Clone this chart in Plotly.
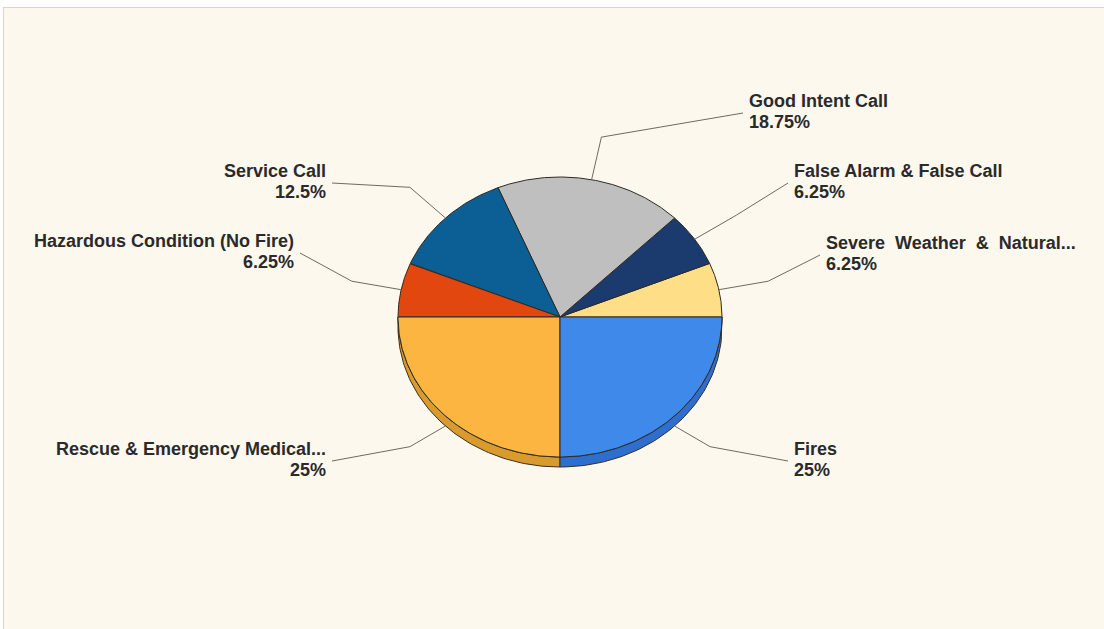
import numpy as np
import plotly.graph_objects as go

# ---- data (counter-clockwise from 3 o'clock) ----
categories = ["Severe  Weather  &  Natural...", "False Alarm & False Call", "Good Intent Call",
              "Service Call", "Hazardous Condition (No Fire)", "Rescue & Emergency Medical...", "Fires"]
percent_labels = ["6.25%", "6.25%", "18.75%", "12.5%", "6.25%", "25%", "25%"]
values = [6.25, 6.25, 18.75, 12.5, 6.25, 25, 25]

# ---- styles / layout ----
top_colors = ["#FEDF87", "#1B3B6F", "#BFBFBF", "#0C5F94", "#E2470F", "#FBB540", "#3F89EA"]
side_colors = ["#D9B865", "#142B52", "#9A9A9A", "#0A4A73", "#B3380B", "#D99A2E", "#2E6ECF"]
# label anchor (end of leader line) as offsets from pie centre, in pixels
label_offsets = [(260, -62), (228, -134), (183, -204), (-228, -134), (-260, -64), (-228, 144), (228, 144)]

W, H = 1101, 622
cx, cy = 557, 310
rx, ry = 162, 140
depth = 10
elbow_k = 1.31
bg = "#FDF8EE"
font = dict(family="Liberation Sans, Arial", size=18, color="#2A2A2A")

def ell(theta_deg, k=1.0, dy=0.0):
    t = np.radians(theta_deg)
    return cx + k * rx * np.cos(t), cy - k * ry * np.sin(t) + dy

fig = go.Figure()
total = sum(values)
angles = np.concatenate([[0], np.cumsum(values) / total * 360.0])

# sides (only the front half, 180..360 deg, is visible)
for i in range(len(values)):
    a, b = max(angles[i], 180.0), min(angles[i + 1], 360.0)
    if b <= a:
        continue
    th = np.linspace(a, b, 80)
    x1, y1 = ell(th)
    x2, y2 = ell(th[::-1], dy=depth)
    fig.add_trace(go.Scatter(x=np.concatenate([x1, x2, x1[:1]]), y=np.concatenate([y1, y2, y1[:1]]),
                             mode="lines", fill="toself", fillcolor=side_colors[i],
                             line=dict(color="#3a2f1c", width=1), hoverinfo="skip", showlegend=False))

# top faces
for i in range(len(values)):
    th = np.linspace(angles[i], angles[i + 1], 120)
    xa, ya = ell(th)
    xs = np.concatenate([[cx], xa, [cx]])
    ys = np.concatenate([[cy], ya, [cy]])
    fig.add_trace(go.Scatter(x=xs, y=ys, mode="lines", fill="toself", fillcolor=top_colors[i],
                             line=dict(color="#2e2a24", width=1),
                             name=categories[i], text=f"{categories[i]}: {percent_labels[i]}",
                             hoverinfo="text", showlegend=False))

# leader lines and labels
for i in range(len(values)):
    mid = (angles[i] + angles[i + 1]) / 2.0
    sx, sy = ell(mid, dy=depth if 180 < mid < 360 else 0)
    ex, ey = ell(mid, k=elbow_k)
    lx, ly = cx + label_offsets[i][0], cy + label_offsets[i][1]
    fig.add_trace(go.Scatter(x=[sx, ex, lx], y=[sy, ey, ly], mode="lines",
                             line=dict(color="#6E6A64", width=1), hoverinfo="skip", showlegend=False))
    right = lx > cx
    tx = lx + (4 if right else -4)
    for txt, dy in ((categories[i], -12.5), (percent_labels[i], 8.5)):
        fig.add_annotation(x=tx, y=ly + dy, xref="x", yref="y", text=f"<b>{txt}</b>",
                           showarrow=False, xanchor="left" if right else "right", yanchor="middle",
                           align="left" if right else "right", font=font)

# frame lines (top and left)
fig.add_shape(type="line", xref="paper", yref="paper", x0=0, x1=1, y0=1, y1=1,
              line=dict(color="#D9D5CB", width=2))
fig.add_shape(type="line", xref="paper", yref="paper", x0=0, x1=0, y0=0, y1=1,
              line=dict(color="#D9D5CB", width=2))

fig.update_layout(width=W, height=H, margin=dict(l=0, r=0, t=0, b=0),
                  paper_bgcolor=bg, plot_bgcolor=bg,
                  xaxis=dict(range=[0, W], visible=False, fixedrange=True),
                  yaxis=dict(range=[H, 0], visible=False, fixedrange=True),
                  showlegend=False)

fig.write_html("out.html",
               post_script="document.body.style.margin='7px 0 0 3px';document.body.style.overflow='hidden';")
